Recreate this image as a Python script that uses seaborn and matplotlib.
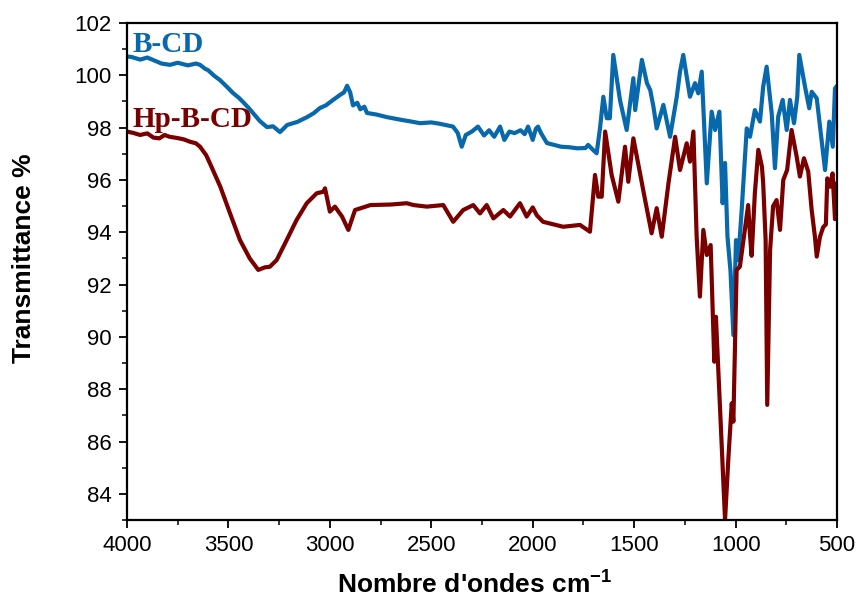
import numpy as np
import pandas as pd
import matplotlib
matplotlib.use("Agg")
import matplotlib.pyplot as plt
from matplotlib.ticker import MultipleLocator
import seaborn as sns

# FTIR spectrum of B-CD (wavenumber in cm-1, transmittance in %)
bcd_wavenumber = [
    4000, 3977, 3935, 3900, 3870, 3830, 3788, 3750, 3700, 3660, 3640, 3615, 3601,
    3570, 3542, 3510, 3477, 3450, 3428, 3400, 3379, 3345, 3310, 3280, 3246, 3230,
    3211, 3160, 3113, 3080, 3049, 3020, 2984, 2950, 2930, 2915, 2900, 2886, 2865,
    2850, 2830, 2817, 2770, 2718, 2650, 2590, 2556, 2500, 2460, 2430, 2393, 2370,
    2350, 2330, 2300, 2270, 2240, 2215, 2190, 2161, 2140, 2115, 2090, 2060, 2040,
    2023, 2000, 1985, 1974, 1960, 1930, 1900, 1860, 1820, 1780, 1740, 1727, 1703,
    1685, 1668, 1652, 1635, 1620, 1603, 1570, 1537, 1504, 1495, 1462, 1437, 1421,
    1405, 1389, 1356, 1323, 1290, 1274, 1258, 1225, 1200, 1184, 1167, 1142, 1118,
    1101, 1080, 1064, 1052, 1040, 1025, 1011, 998, 987, 970, 945, 929, 905, 880,
    864, 847, 822, 806, 790, 768, 748, 732, 712, 696, 686, 658, 637, 625, 600,
    584, 559, 538, 521, 510, 500,
]
bcd_transmittance = [
    100.72, 100.70, 100.60, 100.68, 100.58, 100.45, 100.40, 100.48, 100.38, 100.45,
    100.40, 100.25, 100.20, 99.98, 99.82, 99.58, 99.32, 99.15, 98.98, 98.75, 98.56,
    98.25, 98.02, 98.05, 97.83, 97.95, 98.10, 98.22, 98.40, 98.55, 98.75, 98.85,
    99.06, 99.25, 99.35, 99.60, 99.35, 98.85, 98.95, 98.70, 98.80, 98.56, 98.50,
    98.40, 98.30, 98.22, 98.17, 98.20, 98.15, 98.10, 98.04, 97.80, 97.27, 97.72,
    97.85, 98.04, 97.70, 97.90, 97.65, 98.04, 97.53, 97.85, 97.79, 97.90, 97.75,
    98.04, 97.53, 97.95, 98.04, 97.80, 97.41, 97.35, 97.27, 97.25, 97.21, 97.22,
    97.34, 97.15, 97.02, 98.00, 99.18, 98.36, 98.36, 100.78, 99.06, 97.91, 99.89,
    98.67, 100.59, 99.70, 99.44, 98.80, 97.97, 98.87, 97.65, 99.18, 100.14, 100.78,
    99.18, 99.70, 99.31, 100.14, 95.87, 98.61, 97.91, 98.61, 95.11, 96.65, 93.83,
    92.50, 90.07, 93.70, 92.94, 94.85, 97.97, 97.65, 98.67, 98.23, 99.57, 100.33,
    98.55, 96.45, 98.42, 99.06, 97.91, 99.06, 98.17, 99.18, 100.78, 99.57, 98.74,
    99.37, 99.12, 98.04, 96.38, 98.23, 97.27, 99.50, 99.60,
]

# FTIR spectrum of Hp-B-CD
hp_wavenumber = [
    4000, 3970, 3936, 3900, 3870, 3840, 3815, 3790, 3750, 3720, 3689, 3660, 3640,
    3610, 3591, 3540, 3492, 3443, 3395, 3353, 3320, 3296, 3262, 3213, 3164, 3114,
    3065, 3032, 3024, 3000, 2975, 2940, 2909, 2876, 2800, 2700, 2621, 2588, 2522,
    2441, 2392, 2343, 2293, 2260, 2227, 2194, 2145, 2112, 2063, 2030, 2000, 1980,
    1949, 1850, 1767, 1718, 1693, 1677, 1660, 1643, 1611, 1578, 1545, 1529, 1504,
    1471, 1446, 1414, 1389, 1364, 1331, 1298, 1274, 1241, 1225, 1208, 1192, 1176,
    1159, 1142, 1123, 1105, 1097, 1052, 1036, 1019, 1011, 995, 979, 938, 930, 921,
    905, 888, 870, 864, 852, 844, 830, 815, 798, 781, 765, 746, 724, 699, 683,
    663, 642, 625, 609, 600, 584, 568, 555, 548, 535, 522, 510, 502,
]
hp_transmittance = [
    97.85, 97.80, 97.72, 97.78, 97.62, 97.59, 97.72, 97.65, 97.60, 97.55, 97.46,
    97.40, 97.27, 96.95, 96.63, 95.74, 94.72, 93.70, 93.00, 92.56, 92.66, 92.68,
    92.94, 93.70, 94.47, 95.11, 95.49, 95.55, 95.68, 94.79, 94.98, 94.60, 94.09,
    94.85, 95.04, 95.06, 95.11, 95.04, 94.98, 95.04, 94.40, 94.85, 95.04, 94.72,
    95.04, 94.53, 94.85, 94.60, 95.11, 94.60, 94.95, 94.65, 94.40, 94.21, 94.28,
    94.02, 96.19, 95.36, 95.36, 97.85, 96.19, 95.17, 97.27, 95.93, 97.59, 96.25,
    95.23, 93.96, 94.92, 93.83, 95.87, 97.65, 96.38, 97.40, 96.70, 97.85, 93.83,
    91.54, 94.09, 93.13, 93.51, 89.05, 90.77, 83.00, 85.30, 87.46, 86.76, 92.56,
    92.68, 95.04, 94.00, 93.10, 95.50, 97.15, 96.50, 95.87, 93.70, 87.40, 93.32,
    95.00, 95.23, 94.09, 96.00, 96.38, 97.91, 96.89, 96.13, 96.83, 96.32, 94.85,
    93.83, 93.07, 93.83, 94.20, 94.30, 96.06, 95.74, 96.25, 94.50, 95.87,
]

series_names = ["B-CD", "Hp-B-CD"]
series_colors = ["#0868AC", "#7A0000"]

bcd = pd.DataFrame({"wavenumber": bcd_wavenumber, "transmittance": bcd_transmittance})
hp = pd.DataFrame({"wavenumber": hp_wavenumber, "transmittance": hp_transmittance})

sns.set_style("ticks")
plt.rcParams["font.family"] = ["Liberation Sans", "DejaVu Sans"]
plt.rcParams["mathtext.default"] = "regular"
for key in ["text.color", "axes.labelcolor", "xtick.color", "ytick.color", "axes.edgecolor"]:
    plt.rcParams[key] = "black"

fig = plt.figure(figsize=(8.57, 5.99), dpi=100)
ax = fig.add_axes([0.1482, 0.1319, 0.8285, 0.8297])

for df, color in zip([bcd, hp], series_colors):
    sns.lineplot(data=df, x="wavenumber", y="transmittance", color=color,
                 linewidth=3.0, estimator=None, ax=ax)

ax.set_xlim(4000, 500)
ax.xaxis.set_major_locator(MultipleLocator(500))
ax.xaxis.set_minor_locator(MultipleLocator(250))
ax.yaxis.set_minor_locator(MultipleLocator(1))
ax.set_yticks([84, 86, 88, 90, 92, 94, 96, 98, 100, 102])
ax.set_ylim(83, 102)

ax.tick_params(which="major", direction="out", length=6, width=1.3,
               labelsize=16, colors="black", pad=5)
ax.tick_params(which="minor", direction="out", length=3.3, width=1.1, colors="black")
ax.tick_params(axis="x", which="both", top=False)
ax.tick_params(axis="y", which="both", right=False)

for side in ["left", "right", "top", "bottom"]:
    ax.spines[side].set_visible(True)
    ax.spines[side].set_linewidth(1.6)
    ax.spines[side].set_color("black")

ax.set_xlabel("Nombre d'ondes cm$^{\\mathregular{-1}}$", fontsize=19, fontweight="bold")
ax.set_ylabel("Transmittance %", fontsize=19, fontweight="bold")
ax.xaxis.set_label_coords(0.489, -0.104)
ax.yaxis.set_label_coords(-0.128, 0.527)

label_y = [0.956, 0.805]
for name, color, yy in zip(series_names, series_colors, label_y):
    ax.text(0.008, yy, name, transform=ax.transAxes, color=color,
            fontsize=21, fontweight="bold", va="center", ha="left",
            family=["Liberation Serif", "DejaVu Serif"])

fig.savefig("out.png", dpi=100)
